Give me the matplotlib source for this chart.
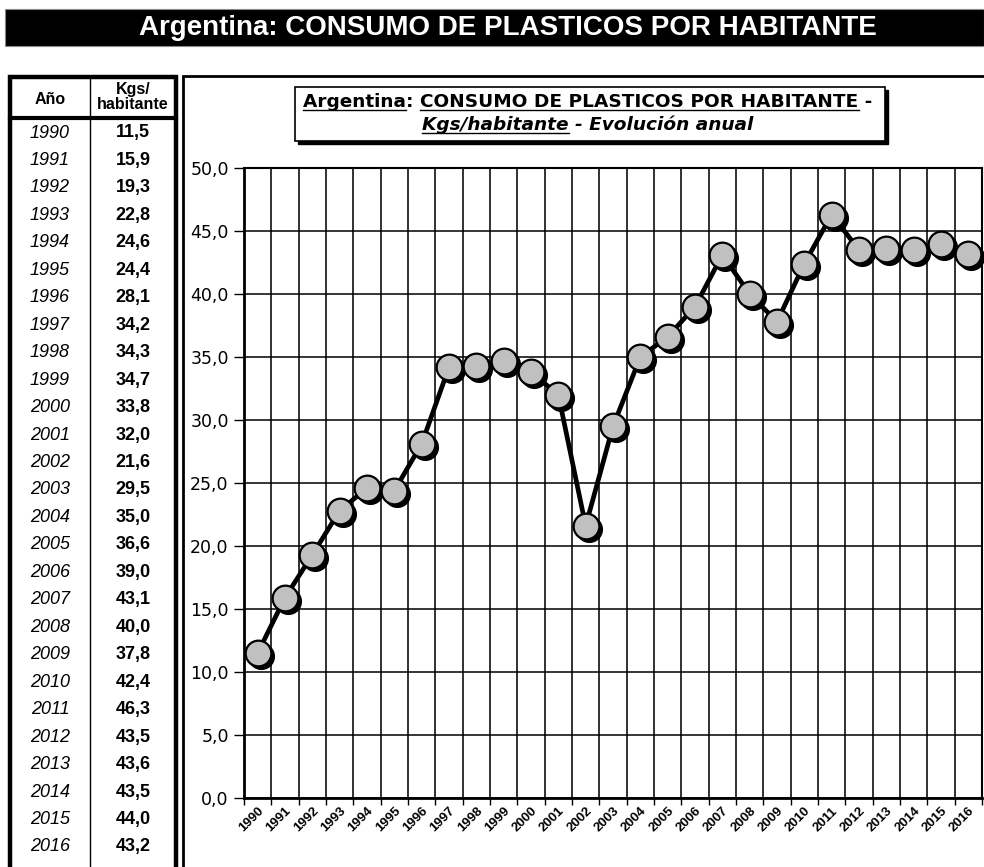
import matplotlib
matplotlib.use("Agg")
import matplotlib.pyplot as plt
import matplotlib.transforms as mtransforms
from matplotlib.patches import Rectangle
from matplotlib.ticker import FuncFormatter, MultipleLocator

years = [1990, 1991, 1992, 1993, 1994, 1995, 1996, 1997, 1998, 1999, 2000, 2001, 2002,
         2003, 2004, 2005, 2006, 2007, 2008, 2009, 2010, 2011, 2012, 2013, 2014, 2015, 2016]
kgs = [11.5, 15.9, 19.3, 22.8, 24.6, 24.4, 28.1, 34.2, 34.3, 34.7, 33.8, 32.0, 21.6,
       29.5, 35.0, 36.6, 39.0, 43.1, 40.0, 37.8, 42.4, 46.3, 43.5, 43.6, 43.5, 44.0, 43.2]

main_title = "Argentina: CONSUMO DE PLASTICOS POR HABITANTE"
col_year = "Año"
col_val = "Kgs/\nhabitante"

FAM = ['Liberation Sans', 'DejaVu Sans']
WIDE = ['DejaVu Sans']
plt.rcParams['font.family'] = FAM

W, H = 984, 867
fig = plt.figure(figsize=(W / 100, H / 100), dpi=100)
fig.patch.set_facecolor('white')

# overlay in pixel coordinates
ov = fig.add_axes([0, 0, 1, 1], zorder=0)
ov.set_xlim(0, W)
ov.set_ylim(H, 0)
ov.axis('off')

# top title bar
ov.add_patch(Rectangle((5, 9), W - 5, 37, facecolor='black', edgecolor='#888888', lw=0.8))
ov.text(508, 28, main_title, color='white', fontsize=20, fontweight='bold',
        ha='center', va='center')

# table
ov.add_patch(Rectangle((10, 77), 166, H, facecolor='white', edgecolor='black', lw=3.2))
ov.plot([10, 176], [118, 118], color='black', lw=3)
ov.plot([90, 90], [77, H], color='black', lw=1)
ov.text(50, 99, col_year, fontsize=11.5, fontweight='bold', ha='center', va='center')
ov.text(133, 97, col_val, fontsize=11.5, fontweight='bold', ha='center', va='center',
        linespacing=1.0)
for i, (yr, v) in enumerate(zip(years, kgs)):
    yy = 133 + i * 27.46
    ov.text(50, yy, str(yr), fontsize=13, style='italic', ha='center', va='center')
    ov.text(133, yy, f"{v:.1f}".replace('.', ','), fontsize=13, fontweight='bold',
            ha='center', va='center')

# chart frame
ov.add_patch(Rectangle((183, 76), W, H, facecolor='white', edgecolor='black', lw=2))

# chart title box with shadow
ov.add_patch(Rectangle((298, 90), 590, 54, facecolor='black', edgecolor='black', lw=1))
ov.add_patch(Rectangle((295, 87), 590, 54, facecolor='white', edgecolor='black', lw=1.2))

fig.canvas.draw()
rend = fig.canvas.get_renderer()


def width_of(s, **kw):
    t = ov.text(0, 0, s, **kw)
    bb = t.get_window_extent(rend)
    t.remove()
    return bb.width


kw1 = dict(fontsize=13.3, fontweight='bold', family=WIDE)
line1 = "Argentina: CONSUMO DE PLASTICOS POR HABITANTE -"
w1 = width_of(line1, **kw1)
x1 = 588 - w1 / 2
ov.text(x1, 107, line1, ha='left', va='baseline', **kw1)
ul_y1 = 110
wa = width_of("Argentina", **kw1)
ov.plot([x1, x1 + wa], [ul_y1, ul_y1], color='black', lw=1)
ws = width_of("Argentina: C", **kw1) - width_of("C", **kw1)
we = width_of("Argentina: CONSUMO DE PLASTICOS POR HABITANTE", **kw1)
ov.plot([x1 + ws, x1 + we], [ul_y1, ul_y1], color='black', lw=1)

kw2 = dict(fontsize=13.3, fontweight='bold', style='italic', family=WIDE)
line2 = "Kgs/habitante - Evolución anual"
w2 = width_of(line2, **kw2)
x2 = 588 - w2 / 2
ov.text(x2, 130, line2, ha='left', va='baseline', **kw2)
wk = width_of("Kgs/habitante", **kw2)
ov.plot([x2, x2 + wk], [133, 133], color='black', lw=1)

# main plot
left, right, top, bottom = 244, 982, 168, 798
ax = fig.add_axes([left / W, 1 - bottom / H, (right - left) / W, (bottom - top) / H], zorder=2)
ax.set_facecolor('white')
xs = list(range(len(years)))
ax.set_xlim(-0.5, len(years) - 0.5)
ax.set_ylim(0, 50)

ax.yaxis.set_major_locator(MultipleLocator(5))
ax.yaxis.set_major_formatter(FuncFormatter(lambda v, p: f"{v:.1f}".replace('.', ',')))
ax.grid(axis='y', color='black', lw=1.1)
for b in range(1, len(years)):
    ax.axvline(b - 0.5, color='#222222', lw=1.3, zorder=0.5)
ax.set_axisbelow(True)

ax.set_xticks(xs)
ax.set_xticklabels([str(y) for y in years], rotation=45, ha='right', va='top',
                   rotation_mode='anchor', fontsize=9.5, fontweight='bold')
ax.set_xticks([b - 0.5 for b in range(len(years) + 1)], minor=True)
ax.tick_params(axis='x', which='major', length=0, pad=5)
ax.tick_params(axis='x', which='minor', length=5, width=1, direction='out')
ax.tick_params(axis='y', length=7, width=1, pad=4)
for lab in ax.get_yticklabels():
    lab.set_fontsize(12.5)
    lab.set_family(WIDE)

for s in ax.spines.values():
    s.set_color('black')
    s.set_linewidth(1.5)
ax.spines['left'].set_linewidth(2)
ax.spines['bottom'].set_linewidth(2)

shadow = mtransforms.offset_copy(ax.transData, fig=fig, x=3, y=-3, units='dots')
ax.plot(xs, kgs, linestyle='none', marker='o', markersize=18.5, color='black',
        transform=shadow, zorder=3, clip_on=False)
ax.plot(xs, kgs, color='black', lw=3.4, zorder=3.5, clip_on=False)
ax.plot(xs, kgs, linestyle='none', marker='o', markersize=18.5, markerfacecolor='#c0c0c0',
        markeredgecolor='black', markeredgewidth=1.6, zorder=4, clip_on=False)

fig.savefig('out.png', dpi=100)
